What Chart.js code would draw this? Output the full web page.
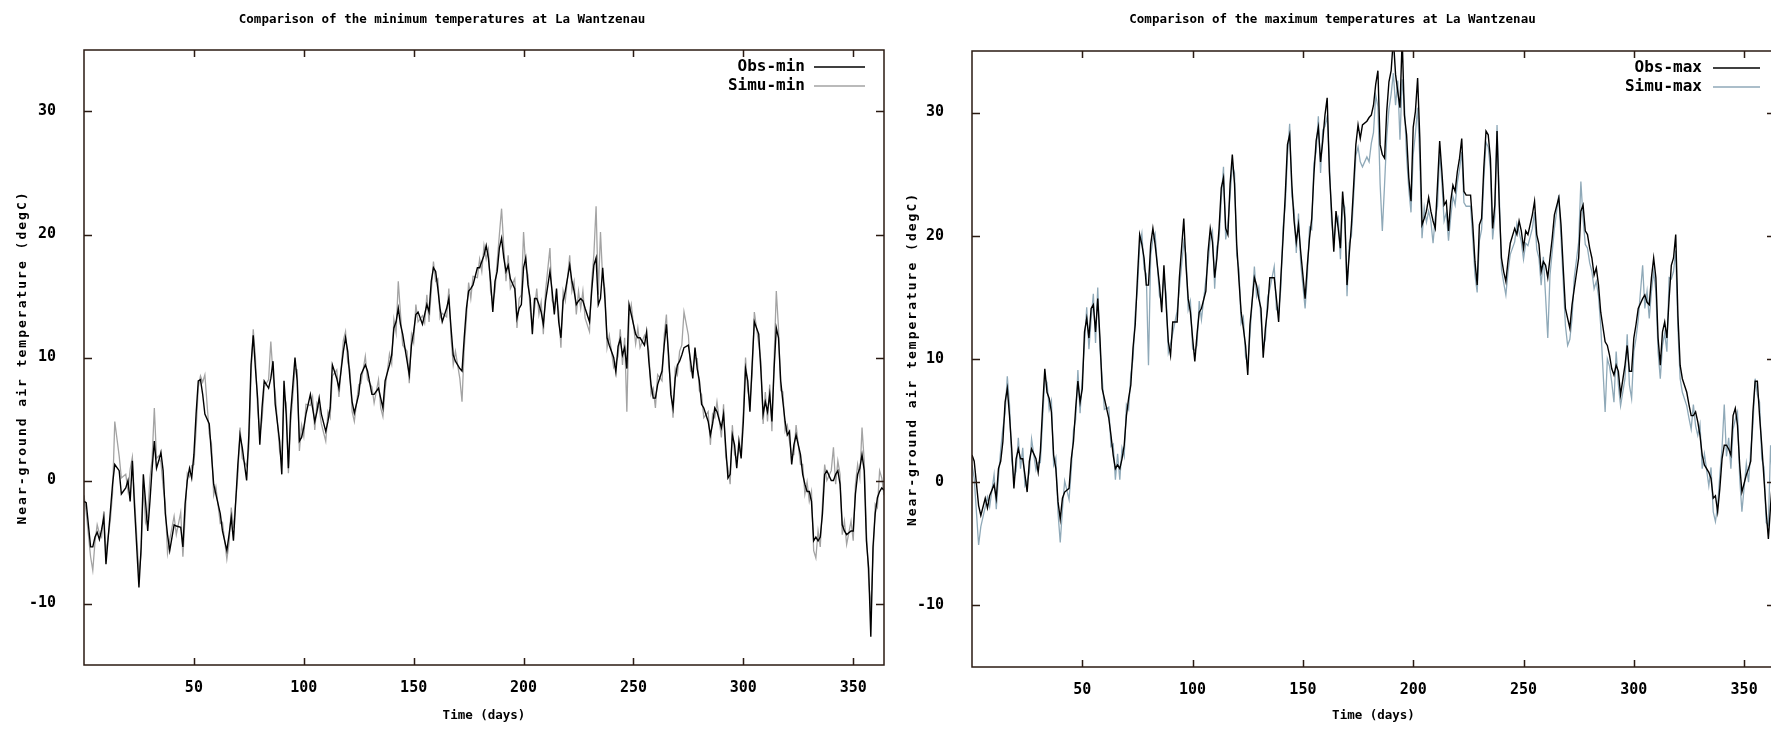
<!DOCTYPE html>
<html>
<head>
<meta charset="utf-8">
<script src="https://cdn.jsdelivr.net/npm/chart.js@4.4.1/dist/chart.umd.min.js"></script>
<style>
  html, body { margin: 0; padding: 0; background: #fff; overflow: hidden; width: 1771px; height: 729px; }
  .panel { position: absolute; top: 0; }
</style>
</head>
<body>
<div class="panel" style="left:0"><canvas id="minChart" width="890" height="729"></canvas></div>
<div class="panel" style="left:890px"><canvas id="maxChart" width="915" height="729"></canvas></div>
<script>
// tick labels
const xTicks = [50, 100, 150, 200, 250, 300, 350];
const yTicks = [-10, 0, 10, 20, 30];

// minimum temperatures (days)
const minDays = [0,1,3,4,5,6,7,8,9,10,12,13,14,16,17,19,20,21,22,23,25,26,27,28,29,30,31,32,33,34,35,36,37,38,39,41,42,44,45,46,47,48,49,50,51,52,53,54,55,57,58,59,60,62,63,65,66,67,68,70,71,72,74,75,76,77,78,79,80,81,82,84,85,86,87,89,90,91,92,93,94,96,97,98,99,100,101,103,104,105,106,107,108,110,111,112,113,115,116,118,119,120,121,122,123,125,126,128,129,131,132,134,135,136,137,139,140,141,142,143,144,145,147,148,149,150,151,152,154,155,156,157,158,159,160,161,162,163,165,166,167,168,169,171,172,173,174,175,176,177,179,180,181,182,183,184,185,186,187,188,189,190,191,192,193,194,196,197,198,199,200,201,202,203,204,205,206,207,208,209,210,212,213,214,215,216,217,218,219,221,222,223,224,225,226,227,228,230,231,232,233,234,235,236,237,238,239,241,242,243,244,245,246,247,248,249,251,252,253,255,256,257,258,259,260,261,263,264,265,266,267,268,269,270,271,272,273,275,276,277,278,279,280,281,282,284,285,286,287,288,290,291,292,293,294,295,296,297,298,299,300,301,302,303,304,305,307,308,309,310,311,312,313,314,315,316,317,318,319,320,321,322,323,324,326,327,328,329,330,331,332,333,334,335,336,337,338,340,341,342,343,344,345,346,347,349,350,351,352,353,354,355,356,357,358,359,360,361,362,363,364];
const obsMin = [-1.7,-1.8,-5.4,-5.4,-4.6,-4.2,-4.8,-4.0,-3.0,-6.8,-2.5,-0.3,1.3,0.8,-1.1,-0.6,0.0,-1.7,1.6,-2.2,-8.7,-5.4,0.5,-1.7,-4.1,-1.7,1.0,3.2,1.0,1.6,2.3,0.8,-2.7,-4.4,-5.7,-3.6,-3.7,-3.8,-5.4,-1.9,0.0,1.0,0.2,2.1,5.4,8.1,8.2,7.0,5.4,4.6,2.1,-0.3,-1.1,-2.7,-4.1,-5.7,-4.4,-3.0,-4.9,1.3,3.7,2.7,0.0,3.7,9.4,11.8,9.1,6.7,2.9,5.9,8.1,7.5,8.3,9.7,6.2,3.2,0.5,8.1,5.4,1.0,5.4,10.0,8.1,3.2,3.5,4.3,5.4,7.0,5.9,4.8,5.6,6.7,5.4,4.0,4.8,5.9,9.4,8.3,7.5,10.5,11.6,10.5,8.3,6.4,5.5,7.0,8.6,9.4,8.9,7.0,7.0,7.5,6.7,5.9,8.1,9.4,10.2,12.4,12.9,14.0,12.7,11.9,9.7,8.6,11.0,12.1,13.5,13.7,12.7,13.5,14.3,13.7,16.2,17.3,17.0,15.6,14.0,12.9,14.0,14.8,12.4,10.2,9.7,9.1,8.9,11.6,14.0,15.4,15.6,15.9,17.3,17.3,17.8,18.3,19.1,18.1,16.2,13.7,16.2,17.0,18.9,19.7,18.1,17.0,17.5,16.4,15.6,13.2,14.0,14.3,17.3,18.1,15.9,14.8,11.9,14.8,14.8,14.3,13.7,12.7,14.6,17.0,15.4,13.5,15.6,12.9,11.6,14.6,15.4,17.5,16.2,15.4,14.3,14.6,14.8,14.6,14.0,12.9,15.4,17.5,18.1,14.3,14.8,17.3,14.8,11.6,11.0,10.0,8.8,10.9,11.5,10.2,10.8,9.1,14.3,13.5,11.9,11.6,11.6,11.0,12.1,9.7,7.8,6.7,6.7,7.8,8.9,11.0,12.7,10.2,7.0,5.9,8.3,9.4,9.7,10.2,10.8,11.0,9.7,8.3,10.8,9.1,8.1,6.2,5.9,4.8,3.7,4.6,5.9,5.6,4.3,5.4,2.7,0.2,0.5,3.7,2.9,1.0,3.2,1.8,4.8,9.1,8.1,5.6,9.4,12.9,11.9,8.9,5.4,6.4,5.6,7.0,4.8,9.1,12.4,11.6,8.1,6.4,4.8,3.7,4.0,1.3,2.9,3.7,2.1,0.5,-0.3,-0.9,-0.9,-1.7,-4.9,-4.6,-4.9,-4.6,-2.7,0.5,0.8,0.0,0.0,0.5,0.8,-0.3,-3.6,-4.1,-4.4,-4.1,-4.1,-1.1,0.5,1.0,2.1,0.8,-4.9,-7.1,-12.7,-5.4,-2.7,-1.4,-0.9,-0.6,-0.8];
const simMin = [-1.2,-2.6,-6.2,-7.3,-5.0,-3.6,-4.3,-4.6,-2.5,-5.9,-3.2,-1.0,4.8,2.0,0.2,0.5,-0.8,0.9,1.9,-1.5,-7.6,-6.0,-0.3,-3.4,-2.8,0.2,1.8,5.9,1.8,2.0,1.5,-0.5,-1.9,-5.9,-4.8,-2.9,-4.4,-2.6,-6.2,-3.0,0.6,0.3,1.2,1.3,4.1,7.6,8.5,8.0,8.6,3.8,3.0,-1.2,-0.5,-3.5,-3.4,-6.4,-5.1,-2.2,-3.9,0.4,4.3,1.8,1.2,2.6,8.6,12.3,10.0,5.8,3.8,4.9,7.6,8.2,11.3,8.6,7.1,2.4,1.6,6.9,6.3,0.6,4.6,9.1,9.0,2.4,4.5,3.6,6.2,6.1,6.8,4.1,6.3,5.9,4.6,3.2,5.6,5.1,8.5,9.0,6.8,11.4,12.1,9.6,9.0,5.6,4.8,7.8,7.9,10.1,8.2,7.6,6.3,8.2,5.9,5.2,7.4,10.3,9.5,13.1,12.0,16.2,13.6,11.0,10.5,7.9,11.9,11.2,14.3,12.9,13.4,12.8,15.1,12.9,15.4,17.8,16.2,16.4,13.2,13.6,13.3,15.6,11.6,9.4,10.5,8.3,6.4,10.8,13.2,16.1,14.8,16.6,16.5,18.0,17.0,19.1,18.0,18.8,15.4,14.5,15.4,17.8,20.0,22.1,19.0,16.2,18.3,15.6,16.4,12.4,14.8,15.1,20.2,17.3,16.7,13.9,12.6,14.0,15.6,13.5,14.5,11.9,15.4,18.9,14.6,14.3,14.8,13.7,10.8,15.4,14.6,18.3,15.4,16.2,13.5,15.4,14.0,15.4,13.2,12.1,16.2,18.4,22.3,15.1,20.2,16.4,15.6,10.8,11.8,9.2,9.6,10.1,12.3,9.4,11.6,5.6,13.4,14.3,11.1,12.4,10.8,11.8,11.3,10.5,7.0,7.5,5.9,8.6,8.1,11.8,13.5,9.4,7.8,5.1,9.1,8.6,10.5,11.0,13.7,11.8,8.9,9.1,10.0,9.9,7.3,7.0,5.1,5.6,2.9,5.4,5.1,6.4,3.5,6.2,1.9,1.0,-0.3,4.5,2.1,1.8,2.4,2.6,5.6,10.0,7.3,6.4,8.6,13.7,11.1,9.7,4.6,7.2,4.8,7.8,4.0,9.9,15.4,12.4,7.3,7.2,4.0,4.5,3.2,2.1,2.1,4.5,1.3,1.3,-1.1,-0.1,-1.7,-0.9,-5.7,-6.3,-4.1,-5.4,-1.9,1.3,0.0,0.8,2.7,-0.3,1.6,0.5,-4.4,-3.3,-5.2,-3.3,-4.9,-0.3,1.3,0.2,4.3,1.6,-4.1,-8.0,-10.5,-6.2,-1.9,-2.2,0.8,0.2,-1.2];

// maximum temperatures (days)
const maxDays = [0,1,3,4,6,7,8,10,11,12,13,14,15,16,17,18,19,20,21,22,23,24,25,26,27,29,30,31,32,33,34,35,36,37,38,39,40,41,42,44,45,46,47,48,49,50,51,52,53,54,55,56,57,58,59,60,62,63,64,65,66,67,68,69,70,71,72,73,74,75,76,77,78,79,80,81,82,83,85,86,87,88,89,90,91,93,94,96,97,98,99,100,101,102,103,104,106,107,108,109,110,111,112,113,114,115,116,117,118,119,120,121,122,123,124,125,126,128,129,130,131,132,133,134,135,137,138,139,140,141,142,143,144,145,146,147,148,149,151,152,153,154,155,156,157,158,159,160,161,162,163,164,165,166,167,168,169,170,171,172,173,174,175,176,177,179,180,181,182,183,184,185,186,187,188,189,190,191,192,193,194,195,196,197,198,199,200,201,202,203,204,205,206,207,208,209,210,211,212,213,214,215,216,217,218,219,220,221,222,223,224,226,227,228,229,230,231,232,233,234,235,236,237,238,239,240,241,242,243,244,246,247,248,249,250,251,252,254,255,256,257,258,259,260,261,262,263,264,266,267,268,269,270,271,272,273,275,276,277,278,279,280,281,282,283,284,285,287,288,289,290,291,292,293,294,296,297,298,299,300,301,302,304,305,306,307,308,309,310,311,312,313,314,315,316,317,318,319,320,321,322,324,325,326,327,328,329,330,331,332,334,335,336,337,338,339,340,341,342,343,344,345,346,347,348,349,351,352,353,354,355,356,357,358,359,360,361,362,363,364];
const obsMax = [2.2,1.7,-1.9,-2.7,-1.3,-2.1,-1.1,-0.2,-1.3,1.1,1.7,3.3,6.5,7.6,5.4,2.7,-0.5,1.9,2.7,1.9,1.9,0.6,-0.8,1.7,2.7,1.9,0.8,2.5,6.0,9.2,7.3,6.8,5.7,2.2,1.1,-1.6,-3.0,-1.3,-0.8,-0.5,1.9,3.3,6.0,8.2,6.5,7.6,12.2,13.3,11.7,14.1,14.4,12.2,14.9,11.7,7.6,6.8,5.2,3.8,2.2,1.1,1.4,1.1,1.9,3.0,5.4,6.8,7.9,10.9,12.8,16.6,20.1,19.3,18.2,16.0,16.0,19.3,20.6,19.3,16.0,13.8,17.6,14.4,11.4,10.3,13.0,13.0,16.6,21.4,17.6,14.9,13.8,11.7,9.8,12.0,13.8,14.1,15.5,18.7,20.6,19.5,16.6,18.2,20.6,23.9,24.7,20.6,20.1,24.2,26.6,24.2,19.3,16.4,13.8,12.5,11.1,8.7,12.8,16.6,16.0,14.9,14.1,10.1,12.5,14.1,16.6,16.6,14.9,13.0,16.6,19.8,23.3,27.4,28.2,24.1,21.2,19.5,20.9,18.7,14.9,17.6,19.8,21.4,25.0,27.7,28.8,26.0,27.7,29.8,31.2,25.2,22.0,18.7,22.0,20.6,19.0,23.6,21.4,16.0,18.5,20.9,24.1,27.4,29.0,27.9,29.0,29.3,29.6,29.8,30.6,32.3,33.4,27.4,26.6,26.3,30.1,32.5,33.4,36.0,33.1,31.7,30.4,36.0,29.8,28.2,24.7,22.8,28.8,30.1,32.8,27.9,20.9,21.4,22.0,23.1,22.0,21.2,20.6,24.1,27.7,25.2,22.5,22.8,20.4,22.8,24.1,23.6,25.2,26.3,27.9,23.6,23.3,23.3,20.9,17.9,16.0,20.9,21.4,25.5,28.5,28.2,26.3,20.6,22.5,28.5,22.5,18.2,17.1,16.3,18.0,19.4,20.6,20.1,21.2,20.4,19.0,20.4,20.1,21.7,22.8,20.1,19.3,17.1,17.9,17.6,16.6,18.2,19.8,21.7,23.1,20.9,17.4,14.1,13.3,12.5,14.4,15.7,18.2,22.0,22.5,20.4,20.1,19.0,18.2,16.8,17.4,16.0,13.8,11.4,11.1,10.3,9.2,8.7,9.5,9.0,7.1,9.5,11.1,9.0,9.0,11.7,12.8,14.1,14.9,15.2,14.6,14.4,16.6,18.2,16.6,11.7,9.5,12.2,13.0,11.7,14.9,17.6,18.2,20.1,13.5,9.5,8.4,7.3,6.3,5.4,5.4,5.7,4.9,3.8,2.2,1.4,0.8,0.3,-1.3,-1.1,-2.4,-0.5,1.9,3.0,3.0,2.7,2.2,5.4,6.0,4.6,1.4,-0.8,0.6,1.1,1.7,5.7,8.2,8.2,5.4,3.0,0.3,-2.4,-4.6,-1.9,0.5,1.5];
const simMax = [1.4,0.3,-5.1,-3.6,-2.0,-1.2,-2.0,0.6,-2.2,0.4,2.6,4.4,5.6,8.6,6.3,1.8,0.4,0.9,3.6,1.1,2.8,-0.3,0.1,0.8,3.5,1.0,1.6,1.6,5.1,8.4,8.1,5.9,6.6,1.4,2.0,-2.5,-4.9,-2.2,0.1,-1.4,1.0,4.2,5.1,9.1,5.6,8.5,11.3,14.2,10.8,13.2,15.3,11.3,15.8,10.8,8.5,5.9,6.1,2.9,3.1,0.2,2.3,0.2,2.8,2.1,6.3,5.9,8.8,10.0,13.7,15.7,19.2,20.2,17.3,16.9,9.5,18.4,19.7,20.2,15.1,14.7,16.7,15.3,10.5,11.2,12.1,13.9,15.7,19.5,18.5,14.0,14.7,10.8,10.7,11.1,14.7,13.2,16.4,17.8,19.7,20.4,15.7,19.1,19.7,23.0,25.6,19.7,21.0,23.3,25.7,25.1,18.4,17.3,12.9,13.4,10.2,9.6,11.9,17.5,15.1,15.8,13.2,11.0,11.6,15.0,15.7,17.5,14.0,13.9,15.7,20.7,22.4,26.5,29.1,23.2,22.1,18.6,21.8,17.8,14.1,16.7,20.7,20.5,25.9,26.8,29.7,25.1,28.6,28.9,29.7,26.1,21.1,19.6,21.1,21.5,18.1,22.7,22.3,15.1,19.4,20.0,23.2,26.5,27.2,26.0,25.6,26.4,26.0,27.5,28.4,31.4,30.5,24.2,20.4,24.1,28.0,30.3,31.5,33.2,30.6,32.6,27.8,32.7,30.7,26.4,23.8,21.9,26.6,28.3,30.4,26.2,19.8,22.3,21.1,22.0,21.2,19.4,21.5,22.4,26.8,24.3,21.2,21.9,19.6,21.5,23.2,22.5,24.3,25.4,26.8,22.7,22.4,22.4,19.8,16.8,15.4,19.6,20.5,24.6,27.6,27.2,25.4,19.7,21.6,29.0,23.4,17.3,16.2,15.2,17.1,18.5,19.5,21.0,20.3,19.5,18.1,19.4,19.2,20.6,21.9,18.9,18.2,16.0,18.3,15.1,11.7,16.8,18.7,20.6,23.3,19.8,16.3,12.7,11.1,11.6,13.3,16.6,19.5,24.4,21.4,19.3,19.0,17.8,17.1,15.7,16.3,15.1,12.7,5.7,10.0,9.4,8.1,6.5,10.6,7.9,6.2,8.4,12.0,7.9,6.8,10.6,11.7,13.2,17.6,14.1,15.5,13.3,15.5,17.1,15.5,10.6,8.4,11.1,12.1,10.6,16.6,16.5,17.1,18.8,12.4,8.4,7.3,6.2,5.2,4.3,6.3,4.6,3.8,4.7,1.1,2.3,-0.3,1.2,-2.4,-3.2,-1.9,0.6,2.8,6.3,2.1,3.6,1.1,4.3,5.1,5.7,0.3,-2.4,1.5,0.0,2.6,4.6,8.4,7.1,6.5,1.9,1.2,-3.3,-3.5,3.0,-0.4,2.4];

const FONT = "'DejaVu Sans Mono', monospace";
Chart.defaults.font.family = FONT;
Chart.defaults.font.weight = 'bold';
Chart.defaults.color = '#000';

// gnuplot style: full frame, inward mirrored ticks, legend inside top right, spaced y label
const gnuplotLook = {
  id: 'gnuplotLook',
  afterDatasetsDraw(chart, args, opts) {
    const { ctx, chartArea: a, scales: { x, y } } = chart;
    ctx.save();
    ctx.strokeStyle = '#2a1a12';
    ctx.lineWidth = 1.5;
    ctx.strokeRect(a.left, a.top, a.right - a.left, a.bottom - a.top);
    ctx.beginPath();
    x.ticks.forEach(t => {
      const px = Math.round(x.getPixelForValue(t.value)) + 0.5;
      ctx.moveTo(px, a.bottom); ctx.lineTo(px, a.bottom - 7);
      ctx.moveTo(px, a.top); ctx.lineTo(px, a.top + 7);
    });
    y.ticks.forEach(t => {
      const py = Math.round(y.getPixelForValue(t.value)) + 0.5;
      ctx.moveTo(a.left, py); ctx.lineTo(a.left + 8, py);
      ctx.moveTo(a.right, py); ctx.lineTo(a.right - 8, py);
    });
    ctx.stroke();

    // legend
    const k = opts.key;
    ctx.font = 'bold 16px ' + FONT;
    ctx.textAlign = 'right';
    ctx.textBaseline = 'middle';
    chart.data.datasets.forEach((ds, i) => {
      const ly = a.top + 17 + i * 19;
      ctx.fillStyle = '#000';
      ctx.fillText(ds.label, a.right - k[0], ly);
      ctx.strokeStyle = ds.borderColor;
      ctx.lineWidth = 1.5;
      ctx.beginPath();
      ctx.moveTo(a.right - k[1], ly);
      ctx.lineTo(a.right - k[2], ly);
      ctx.stroke();
    });

    // y axis title
    ctx.translate(opts.labelX, (a.top + a.bottom) / 2);
    ctx.rotate(-Math.PI / 2);
    ctx.font = 'bold 13px ' + FONT;
    ctx.textAlign = 'center';
    ctx.letterSpacing = '2px';
    ctx.fillStyle = '#000';
    ctx.fillText(opts.yTitle, 0, 0);
    ctx.restore();
  }
};

function makeChart(id, days, obs, sim, labels, simColor, title, box) {
  new Chart(document.getElementById(id), {
    type: 'line',
    data: {
      datasets: [
        {
          label: labels[0],
          data: days.map((d, i) => ({ x: d, y: obs[i] })),
          borderColor: '#000',
          borderWidth: 1.4
        },
        {
          label: labels[1],
          data: days.map((d, i) => ({ x: d, y: sim[i] })),
          borderColor: simColor,
          borderWidth: 1.3
        }
      ]
    },
    options: {
      responsive: false,
      animation: false,
      devicePixelRatio: 1,
      layout: { padding: { right: box.right } },
      elements: { point: { radius: 0 }, line: { tension: 0 } },
      plugins: {
        legend: { display: false },
        tooltip: { enabled: false },
        title: {
          display: true,
          text: title,
          font: { size: 12.5 },
          padding: { top: 12, bottom: box.top - 27 }
        },
        gnuplotLook: { yTitle: 'Near-ground air temperature (degC)', labelX: 23, key: box.key }
      },
      scales: {
        x: {
          type: 'linear',
          min: 0,
          max: 364,
          afterBuildTicks: s => { s.ticks = xTicks.map(v => ({ value: v })); },
          afterFit: s => { s.height = 729 - box.bottom; },
          grid: { display: false, drawTicks: false },
          border: { display: false },
          ticks: { padding: 14, font: { size: 15 } },
          title: { display: true, text: 'Time (days)', font: { size: 12.5 }, padding: { top: 0, bottom: 6 } }
        },
        y: {
          min: -15,
          max: 35,
          afterBuildTicks: s => { s.ticks = yTicks.map(v => ({ value: v })); },
          afterFit: s => { s.width = box.left; },
          grid: { display: false, drawTicks: false },
          border: { display: false },
          ticks: { padding: 28, font: { size: 15 } }
        }
      }
    },
    plugins: [gnuplotLook]
  });
}

makeChart('minChart', minDays, obsMin, simMin, ['Obs-min', 'Simu-min'], '#a3a3a3',
  'Comparison of the minimum temperatures at La Wantzenau',
  { left: 84, right: 6, top: 50, bottom: 665, key: [79, 70, 19] });
makeChart('maxChart', maxDays, obsMax, simMax, ['Obs-max', 'Simu-max'], '#8fa9b8',
  'Comparison of the maximum temperatures at La Wantzenau',
  { left: 82, right: 30, top: 51, bottom: 667, key: [73, 62, 15] });
</script>
</body>
</html>
